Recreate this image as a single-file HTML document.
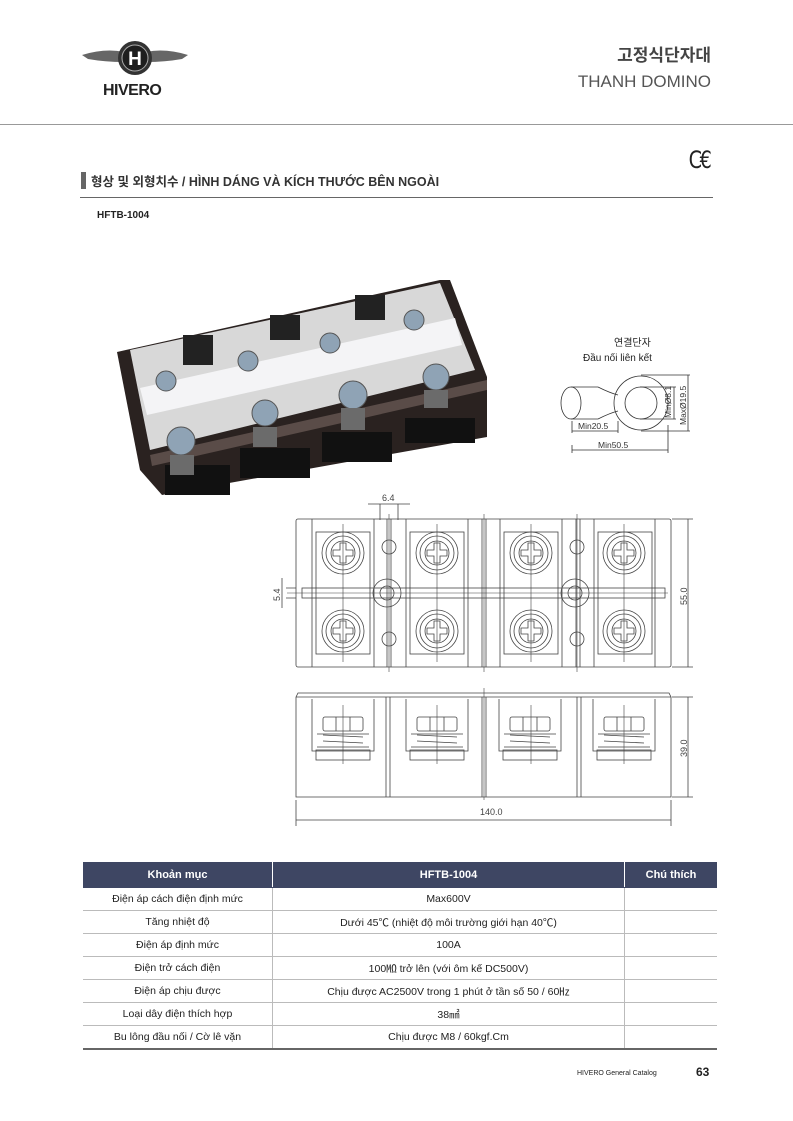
<!DOCTYPE html>
<html><head><meta charset="utf-8"><style>
body{margin:0;background:#fff;}
.pg{position:relative;width:793px;height:1121px;overflow:hidden;font-family:"Liberation Sans","Noto Sans CJK KR",sans-serif;color:#222;}
.a{position:absolute;white-space:nowrap;line-height:1.15;}
table{position:absolute;left:83px;top:862px;width:634px;border-collapse:collapse;font-size:10.5px;}
td{border:1px solid #bbb;text-align:center;height:22px;padding:0;}
tr:first-child td{background:#3e4663;color:#fff;font-weight:bold;height:24px;font-size:11px;border-color:#3e4663;border-right:1px solid #fff;}
tr:last-child td{border-bottom:2px solid #666;}
td:first-child{border-left:none;}td:last-child{border-right:none !important;}
</style></head><body><div class="pg">
<svg class="a" style="left:80px;top:38px" width="110" height="48" viewBox="0 0 110 48">
<path d="M2 17 Q25 10 44 14 L44 24 Q25 24 8 21 Z" fill="#666"/>
<path d="M108 17 Q85 10 66 14 L66 24 Q85 24 102 21 Z" fill="#666"/>
<circle cx="55" cy="20" r="17" fill="#333"/><circle cx="55" cy="20" r="13" fill="#1e1e1e" stroke="#aaa" stroke-width="1"/>
<text x="55" y="27" text-anchor="middle" font-family="Liberation Sans" font-weight="bold" font-size="19" fill="#fff">H</text></svg>
<div class="a" style="left:103px;top:82px;font-size:16px;font-weight:bold;letter-spacing:-0.5px">HIVERO</div>
<div class="a" style="right:82px;top:46px;font-size:17px;color:#444;font-weight:bold">고정식단자대</div>
<div class="a" style="right:82px;top:72px;font-size:17px;color:#555">THANH DOMINO</div>
<div class="a" style="left:0;top:124px;width:793px;height:1px;background:#999"></div>
<div class="a" style="left:686px;top:147px;font-size:24px;color:#222;font-family:'DejaVu Sans',sans-serif;letter-spacing:-3px;transform:scaleX(0.8)">C€</div>
<div class="a" style="left:81px;top:172px;width:5px;height:17px;background:#666"></div>
<div class="a" style="left:91px;top:175px;font-size:12.5px;font-weight:bold;color:#333">형상 및 외형치수 / HÌNH DÁNG VÀ KÍCH THƯỚC BÊN NGOÀI</div>
<div class="a" style="left:80px;top:197px;width:633px;height:1px;background:#666"></div>
<div class="a" style="left:97px;top:210px;font-size:10px;font-weight:bold">HFTB-1004</div>
<svg class="a" style="left:0;top:0" width="793" height="500">
<polygon points="117,352 440,280 450,280 487,377 487,437 162,495 140,470" fill="#2a2220"/>
<polygon points="130,350 440,283 475,370 150,450" fill="#d8d8d8"/>
<polygon points="140,388 455,318 462,345 147,415" fill="#f4f4f6"/>
<polygon points="150,455 487,380 487,390 152,466" fill="#5a4c48"/>
<g fill="#222"><rect x="183" y="335" width="30" height="30"/><rect x="270" y="315" width="30" height="25"/><rect x="355" y="295" width="30" height="25"/></g>
<g fill="#111"><rect x="165" y="465" width="65" height="30"/><rect x="240" y="448" width="70" height="30"/><rect x="322" y="432" width="70" height="30"/><rect x="405" y="418" width="70" height="25"/></g>
<g fill="#8fa3b5" stroke="#555"><circle cx="181" cy="441" r="14"/><circle cx="265" cy="413" r="13"/><circle cx="353" cy="395" r="14"/><circle cx="436" cy="377" r="13"/>
<circle cx="166" cy="381" r="10"/><circle cx="248" cy="361" r="10"/><circle cx="330" cy="343" r="10"/><circle cx="414" cy="320" r="10"/></g>
<g fill="#6b6b6b"><rect x="170" y="455" width="24" height="20"/><rect x="253" y="427" width="24" height="20"/><rect x="341" y="408" width="24" height="22"/><rect x="424" y="390" width="24" height="18"/></g>
</svg>
<div class="a" style="left:614px;top:338px;font-size:10px">연결단자</div>
<div class="a" style="left:583px;top:353px;font-size:10px">Đầu nối liên kết</div>
<svg class="a" style="left:540px;top:365px" width="160" height="95" font-family="Liberation Sans" font-size="8.5" fill="none" stroke="#333" stroke-width="0.8">
<ellipse cx="31" cy="38" rx="10" ry="16"/><path d="M31 22 L58 22 Q70 28 78 30 M31 54 L58 54 Q70 48 78 46"/>
<circle cx="101" cy="38" r="27"/><circle cx="101" cy="38" r="16"/>
<path d="M32 56 L32 68 M78 56 L78 68 M32 66 L78 66 M32 88 L32 80 M128 88 L128 60 M32 85 L128 85 M100 22 L136 22 M100 54 L136 54 M134 22 L134 54 M101 10 L150 10 M101 66 L150 66 M148 10 L148 66"/>
<g fill="#333" stroke="none"><text x="38" y="64">Min20.5</text><text x="58" y="83">Min50.5</text>
<text transform="translate(131,53) rotate(-90)">MinØ8.1</text><text transform="translate(146,60) rotate(-90)">MaxØ19.5</text></g>
</svg>
<svg class="a" style="left:0;top:0" width="793" height="840" font-family="Liberation Sans" font-size="9" fill="none" stroke="#444" stroke-width="0.8">
<defs>
<g id="s"><circle r="21"/><circle r="17"/><circle r="12"/><path d="M-3 -10h6v7h7v6h-7v7h-6v-7h-7v-6h7z"/></g>
<g id="p"><path d="M0 0V52H62V0M5 48H57M5 35H57"/><rect x="4" y="51" width="54" height="10"/><rect x="11" y="18" width="40" height="14" rx="2"/><path d="M24 18V32M38 18V32M11 36L51 38M11 42L51 44"/></g>
</defs>
<rect x="296" y="519" width="375" height="148" rx="2"/>
<rect x="316" y="532" width="54" height="122"/><rect x="410" y="532" width="54" height="122"/><rect x="504" y="532" width="54" height="122"/><rect x="598" y="532" width="54" height="122"/>
<path d="M312 519V667M374 519V667M406 519V667M468 519V667M500 519V667M562 519V667M594 519V667M655 519V667"/>
<path d="M387 519V667M391 519V667M482 519V667M486 519V667M576 519V667M580 519V667"/>
<rect x="302" y="588" width="363" height="10"/>
<circle cx="387" cy="593" r="14"/><circle cx="387" cy="593" r="7"/><circle cx="575" cy="593" r="14"/><circle cx="575" cy="593" r="7"/>
<circle cx="389" cy="547" r="7"/><circle cx="389" cy="639" r="7"/><circle cx="577" cy="547" r="7"/><circle cx="577" cy="639" r="7"/>
<use href="#s" x="343" y="553"/><use href="#s" x="437" y="553"/><use href="#s" x="531" y="553"/><use href="#s" x="624" y="553"/>
<use href="#s" x="343" y="631"/><use href="#s" x="437" y="631"/><use href="#s" x="531" y="631"/><use href="#s" x="624" y="631"/>
<path d="M287 593H668M343 524V662M437 524V662M531 524V662M624 524V662M389 514V672M484 514V672M577 514V672" stroke-width="0.6"/>
<path d="M368 504H410M380 504V520M398 504V520M286 588H296M286 598H296M282 578V608M672 519H693M672 667H693M688 519V667M672 697H693M672 797H693M688 697V797M296 800V826M671 800V826M296 820H671"/>
<g fill="#444" stroke="none"><text x="382" y="501">6.4</text><text x="480" y="815">140.0</text>
<text transform="translate(280,601) rotate(-90)">5.4</text><text transform="translate(687,605) rotate(-90)">55.0</text><text transform="translate(687,757) rotate(-90)">39.0</text></g>
<path d="M296 697L298 693H669L671 697V797H296Z"/><path d="M296 697H671"/>
<path d="M386 697V797M390 697V797M482 697V797M486 697V797M577 697V797M581 697V797"/>
<use href="#p" x="312" y="699"/><use href="#p" x="406" y="699"/><use href="#p" x="499" y="699"/><use href="#p" x="593" y="699"/>
<path d="M343 705V764M437 705V764M531 705V764M624 705V764M484 688V800" stroke-width="0.6"/>
</svg>
<table>
<tr><td style="width:189px">Khoản mục</td><td style="width:351px">HFTB-1004</td><td>Chú thích</td></tr>
<tr><td>Điện áp cách điện định mức</td><td>Max600V</td><td></td></tr>
<tr><td>Tăng nhiệt độ</td><td>Dưới 45℃ (nhiệt độ môi trường giới hạn 40℃)</td><td></td></tr>
<tr><td>Điện áp định mức</td><td>100A</td><td></td></tr>
<tr><td>Điện trở cách điện</td><td>100㏁ trở lên (với ôm kế DC500V)</td><td></td></tr>
<tr><td>Điện áp chịu được</td><td>Chịu được AC2500V trong 1 phút ở tần số 50 / 60㎐</td><td></td></tr>
<tr><td>Loại dây điện thích hợp</td><td>38㎟</td><td></td></tr>
<tr><td>Bu lông đầu nối / Cờ lê vặn</td><td>Chịu được M8 / 60kgf.Cm</td><td></td></tr>
</table>
<div class="a" style="left:577px;top:1070px;font-size:7px">HIVERO General Catalog</div>
<div class="a" style="left:696px;top:1066px;font-size:12px;font-weight:bold">63</div>
</div></body></html>
